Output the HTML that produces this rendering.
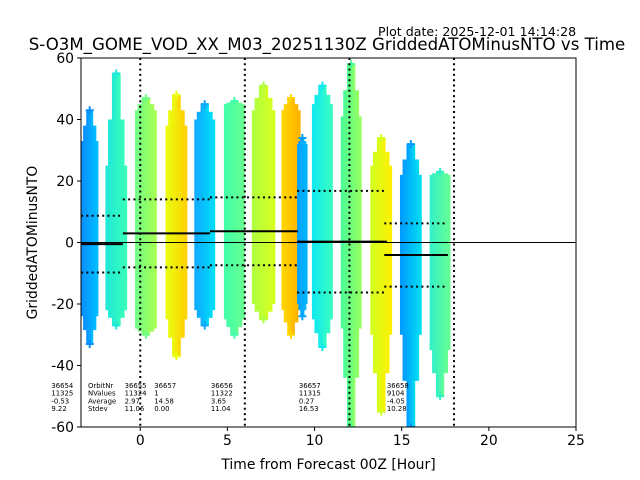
<!DOCTYPE html>
<html><head><meta charset="utf-8"><style>
html,body{margin:0;padding:0;background:#fff;}
svg{display:block;font-family:"DejaVu Sans","Liberation Sans",sans-serif;}
</style></head><body>
<svg id="chart" width="640" height="480" viewBox="0 0 640 480">
<text x="378" y="36" font-size="12.6" fill="#000">Plot date: 2025-12-01 14:14:28</text>
<text x="327" y="50" font-size="16.6" text-anchor="middle" fill="#000">S-O3M_GOME_VOD_XX_M03_20251130Z GriddedATOMinusNTO vs Time</text>
<defs id="defs"></defs>
<g id="marks"></g>
<g id="axes"></g>
</svg>
<script>
// ---- data ----
const colStart = [-3.4, -2.0, -0.3, 1.45, 3.1, 4.8, 6.4, 8.1, 9.0, 9.85, 11.5, 13.2, 14.9, 16.6];
const colEnd   = [-2.4, -0.75, 0.95, 2.7, 4.3, 6.0, 7.75, 9.2, 9.6, 11.05, 12.7, 14.45, 16.15, 17.8];
const coreMin  = [-24, -22, -28, -25, -22, -25, -20, -22, -20, -25, -28, -30, -30, -35];
const coreMax  = [33, 25, 43, 38, 40, 45, 43, 43, 32, 45, 41, 25, 22, 22];
const extMin   = [-33, -27, -30, -37, -27, -30, -25, -30, -24, -34, -60, -55, -60, -50];
const extMax   = [43, 55, 47, 48, 45, 46, 51, 47, 34, 51, 58, 34, 32, 23];
const colorA   = ["#0a8cff","#20e8d8","#70ff88","#e8ff10","#10a8ff","#40ffa8","#b0ff40","#ffd800","#00a0ff","#10e8f0","#48ff98","#d0ff20","#0098ff","#30f0c8"];
const colorB   = ["#00c0ff","#38ffb8","#a8ff50","#ffd000","#00e0f8","#68ff90","#d8ff20","#ffb000","#00b8ff","#38ffc0","#98ff60","#fff000","#00e0f0","#68ff90"];
const segStart = [-3.4, -1.0, 4.0, 9.0, 14.0];
const segEnd   = [-1.0, 4.0, 9.05, 14.15, 17.65];
const segMean  = [-0.53, 2.97, 3.65, 0.27, -4.05];
const segStd   = [9.22, 11.06, 11.04, 16.53, 10.28];
const vLines   = [0, 6, 12, 18];
const xTicks   = [0, 5, 10, 15, 20, 25];
const yTicks   = [60, 40, 20, 0, -20, -40, -60];
const annX     = [-5.1, -3.0, -0.9, 0.8, 4.05, 9.1, 14.15];
const annLines = [
 ["36654","11325","-0.53","9.22"],
 ["OrbitNr","NValues","Average","Stdev"],
 ["36655","11324","2.97","11.06"],
 ["36657","1","14.58","0.00"],
 ["36656","11322","3.65","11.04"],
 ["36657","11315","0.27","16.53"],
 ["36658","9104","-4.05","10.28"]];

// ---- axes ----
const L=81,R=576,T=58,B=427, xmin=-3.4,xmax=25, ymin=-60,ymax=60;
const X=v=>L+(v-xmin)/(xmax-xmin)*(R-L);
const Y=v=>B-(v-ymin)/(ymax-ymin)*(B-T);
const NS="http://www.w3.org/2000/svg";
const marks=document.getElementById('marks'), axes=document.getElementById('axes'), defs=document.getElementById('defs');
function mk(tag,attrs,parent){const e=document.createElementNS(NS,tag);for(const k in attrs)e.setAttribute(k,attrs[k]);parent.appendChild(e);return e;}

const cp=mk('clipPath',{id:'clip'},defs); mk('rect',{x:L,y:T,width:R-L,height:B-T},cp);
marks.setAttribute('clip-path','url(#clip)');

for(let i=0;i<colStart.length;i++){
  const g=mk('linearGradient',{id:'g'+i,x1:0,x2:1,y1:0,y2:0},defs);
  mk('stop',{offset:'0',  'stop-color':colorA[i]},g);
  mk('stop',{offset:'1','stop-color':colorB[i]},g);
  const x0=X(colStart[i]), x1=X(colEnd[i]), w=x1-x0;
  const ext=mk('rect',{x:x0+w*0.3,y:Y(extMax[i]),width:w*0.4,height:Y(extMin[i])-Y(extMax[i]),fill:'url(#g'+i+')'},marks);
  
  
  const midTop=(coreMax[i]+extMax[i])/2, midBot=(coreMin[i]+extMin[i])/2;
  const mid=mk('rect',{x:x0+w*0.12,y:Y(midTop),width:w*0.76,height:Y(midBot)-Y(midTop),fill:'url(#g'+i+')'},marks);
  
  
  const core=mk('rect',{x:x0,y:Y(coreMax[i]),width:w,height:Y(coreMin[i])-Y(coreMax[i]),fill:'url(#g'+i+')'},marks);
  
  
  [extMax[i],extMin[i]].forEach(v=>{
    const cx=X((colStart[i]+colEnd[i])/2), cy=Y(v);
    const p=mk('path',{d:`M${cx-4},${cy}H${cx+4}M${cx},${cy-4}V${cy+4}`,stroke:colorA[i],'stroke-width':2},marks);
    
    
  });
}
const zl=mk('line',{x1:L,x2:R,y1:Y(0),y2:Y(0),stroke:'#000','stroke-width':1},marks);


vLines.forEach(v=>{
  const l=mk('line',{x1:X(v),x2:X(v),y1:T,y2:B,stroke:'#000','stroke-width':2,'stroke-dasharray':'2,3.3'},marks);
  
  
});
for(let i=0;i<segStart.length;i++){
  const x0=X(segStart[i]),x1=X(segEnd[i]);
  const m=mk('line',{x1:x0,x2:x1,y1:Y(segMean[i]),y2:Y(segMean[i]),stroke:'#000','stroke-width':2},marks);
  
  
  [segMean[i]+segStd[i],segMean[i]-segStd[i]].forEach(v=>{
    const d=mk('line',{x1:x0,x2:x1,y1:Y(v),y2:Y(v),stroke:'#000','stroke-width':2,'stroke-dasharray':'2,3.3'},marks);
    
    
  });
}
annX.forEach((h,i)=>{
  annLines[i].forEach((s,j)=>{
    const t=mk('text',{x:X(h),y:388+j*7.7,'font-size':6.9,fill:'#000'},axes);
    t.textContent=s;
    
    
  });
});
const fr=mk('rect',{x:L,y:T,width:R-L,height:B-T,fill:'none',stroke:'#000','stroke-width':1},axes);


xTicks.forEach(v=>{
  const tk=mk('line',{x1:X(v),x2:X(v),y1:B,y2:B+4,stroke:'#000'},axes);
  
  
  const t=mk('text',{x:X(v),y:B+18,'font-size':13.9,'text-anchor':'middle'},axes);
  t.textContent=v;
  
  
});
yTicks.forEach(v=>{
  const tk=mk('line',{x1:L-4,x2:L,y1:Y(v),y2:Y(v),stroke:'#000'},axes);
  
  
  const t=mk('text',{x:L-7,y:Y(v)+5,'font-size':13.9,'text-anchor':'end'},axes);
  t.textContent=v;
  
  
});
const xl=mk('text',{x:(L+R)/2,y:469,'font-size':13.9,'text-anchor':'middle'},axes);
xl.textContent='Time from Forecast 00Z [Hour]';


const yl=mk('text',{x:33,y:(T+B)/2,'font-size':13.9,'text-anchor':'middle',transform:`rotate(-90 33 ${(T+B)/2})`},axes);
yl.setAttribute('transform',`rotate(-90 33 ${(T+B)/2})`);
yl.setAttribute('x',33); yl.setAttribute('y',(T+B)/2);
yl.textContent='GriddedATOMinusNTO';


yl.setAttribute('dy','0');
yl.setAttribute('x',33+0);
yl.setAttribute('transform',`rotate(-90 ${33} ${(T+B)/2}) translate(0,-0)`);
yl.setAttribute('y',(T+B)/2+4);
</script>
</body></html>
